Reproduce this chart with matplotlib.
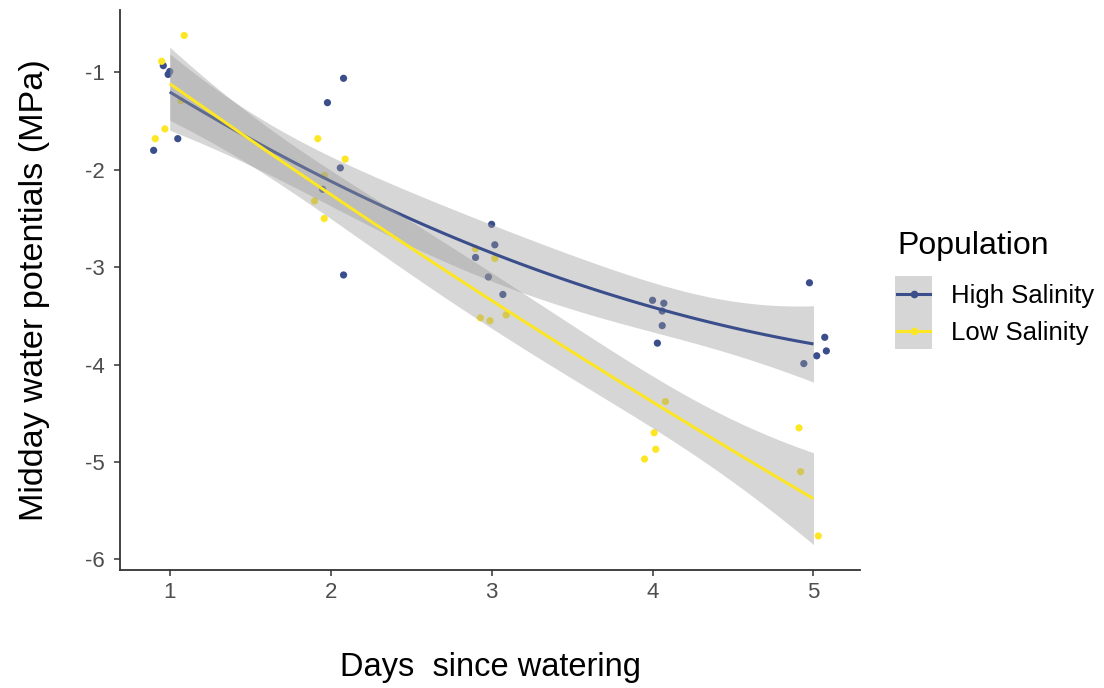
import math
import numpy as np
import matplotlib
matplotlib.use("Agg")
import matplotlib.pyplot as plt
from matplotlib.patches import Rectangle
from matplotlib.lines import Line2D

plt.rcParams["font.family"] = ["Liberation Sans", "DejaVu Sans"]

# ---- data -------------------------------------------------------------
# jittered x positions of the plotted points (days since watering)
high_x = [0.96, 1.00, 0.99, 1.05, 0.90,
          2.08, 1.98, 2.06, 1.95, 2.08,
          3.00, 3.02, 2.90, 2.98, 3.07,
          4.00, 4.07, 4.06, 4.06, 4.03,
          4.975, 5.07, 5.08, 5.02, 4.94]
high_y = [-0.93, -0.99, -1.02, -1.68, -1.80,
          -1.06, -1.31, -1.98, -2.20, -3.08,
          -2.56, -2.77, -2.90, -3.10, -3.28,
          -3.34, -3.37, -3.45, -3.60, -3.78,
          -3.16, -3.72, -3.86, -3.91, -3.99]

low_x = [1.09, 0.95, 1.07, 0.97, 0.91,
         1.92, 2.09, 1.96, 1.90, 1.96,
         2.90, 3.02, 2.93, 2.99, 3.09,
         4.08, 4.01, 4.02, 3.95,
         4.91, 4.92, 5.03]
low_y = [-0.62, -0.885, -1.29, -1.58, -1.68,
         -1.68, -1.89, -2.06, -2.32, -2.50,
         -2.81, -2.91, -3.52, -3.55, -3.49,
         -4.38, -4.70, -4.87, -4.97,
         -4.65, -5.10, -5.76]

groups = ["High Salinity", "Low Salinity"]
colors = ["#3B4E8C", "#FDE725"]
x_ticks = [1, 2, 3, 4, 5]
y_ticks = [-1, -2, -3, -4, -5, -6]

W, H = 1104, 688


def t_quantile(p, df):
    """Quantile of Student's t distribution by numerical integration."""
    xs = np.linspace(0, 12, 24001)
    c = math.exp(math.lgamma((df + 1) / 2) - math.lgamma(df / 2)) / math.sqrt(df * math.pi)
    pdf = c * (1 + xs ** 2 / df) ** (-(df + 1) / 2)
    cdf = 0.5 + np.concatenate([[0], np.cumsum((pdf[1:] + pdf[:-1]) / 2 * np.diff(xs))])
    return float(np.interp(p, cdf, xs))


def quad_fit_band(x, y, grid, level=0.95):
    """Quadratic least-squares fit with a confidence band for the mean."""
    x = np.asarray(x, float)
    y = np.asarray(y, float)
    X = np.column_stack([np.ones_like(x), x, x ** 2])
    beta, *_ = np.linalg.lstsq(X, y, rcond=None)
    df = len(x) - 3
    sigma = np.sqrt(np.sum((y - X @ beta) ** 2) / df)
    G = np.column_stack([np.ones_like(grid), grid, grid ** 2])
    cov = np.linalg.inv(X.T @ X)
    se = sigma * np.sqrt(np.einsum("ij,jk,ik->i", G, cov, G))
    t = t_quantile(0.5 + level / 2, df)
    fit = G @ beta
    return fit, fit - t * se, fit + t * se


fig = plt.figure(figsize=(W / 100, H / 100), dpi=100)
ax = fig.add_axes([120 / W, 118 / H, 740 / W, 560 / H])

series = [(high_x, high_y), (low_x, low_y)]

# points first, the smoothers are layered above them
for (xs, ys), col in zip(series, colors):
    ax.scatter(xs, ys, s=27, color=col, edgecolors="none", zorder=2)

all_y = list(high_y) + list(low_y)
all_x = list(high_x) + list(low_x)
z = 3
for (xs, ys), col in zip(series, colors):
    days = np.round(xs)
    grid = np.linspace(days.min(), days.max(), 80)
    fit, lo, hi = quad_fit_band(days, ys, grid)
    ax.fill_between(grid, lo, hi, color="#999999", alpha=0.4,
                    linewidth=0, zorder=z)
    ax.plot(grid, fit, color=col, lw=2.2, zorder=z + 1,
            solid_capstyle="butt")
    all_y += list(lo) + list(hi)
    z += 2

# 5% expansion on both axes
xmin, xmax = min(all_x), max(all_x)
ymin, ymax = min(all_y), max(all_y)
ax.set_xlim(xmin - 0.05 * (xmax - xmin), xmax + 0.05 * (xmax - xmin))
ax.set_ylim(ymin - 0.05 * (ymax - ymin), ymax + 0.05 * (ymax - ymin))

ax.set_xticks(x_ticks)
ax.set_yticks(y_ticks)
ax.set_xticklabels([str(t) for t in x_ticks])
ax.set_yticklabels([str(t) for t in y_ticks])
ax.tick_params(axis="both", labelsize=16, colors="#333333",
               labelcolor="#4D4D4D", length=4, width=1.1)
ax.tick_params(axis="x", pad=5)
ax.tick_params(axis="y", pad=7)
for side in ("top", "right"):
    ax.spines[side].set_visible(False)
for side in ("left", "bottom"):
    ax.spines[side].set_color("#333333")
    ax.spines[side].set_linewidth(1.3)

ax.set_xlabel("Days  since watering", fontsize=23.5, labelpad=35)
ax.set_ylabel("Midday water potentials (MPa)", fontsize=24.7, labelpad=25)

# ---- legend, laid out in figure pixels --------------------------------
def fx(px):
    return px / W


def fy(py):
    return 1 - py / H


fig.text(fx(897), fy(246), "Population", fontsize=23, ha="left", va="center")
key_top, key_h = 276, 36.5
for i, (label, col) in enumerate(zip(groups, colors)):
    top = key_top + i * key_h
    fig.add_artist(Rectangle((fx(895), fy(top + key_h)), fx(932) - fx(895),
                             key_h / H, transform=fig.transFigure,
                             facecolor="#999999", alpha=0.4, edgecolor="none"))
    cy = top + key_h / 2
    fig.add_artist(Line2D([fx(897), fx(930)], [fy(cy), fy(cy)],
                          transform=fig.transFigure, color=col, lw=2.2))
    fig.add_artist(Line2D([fx(913.5)], [fy(cy)], transform=fig.transFigure,
                          color=col, marker="o", markersize=5.5,
                          markeredgewidth=0, linestyle="none"))
    fig.text(fx(951), fy(cy + 2), label, fontsize=18.5, ha="left", va="center")

fig.savefig("out.png", dpi=100, facecolor="white")
